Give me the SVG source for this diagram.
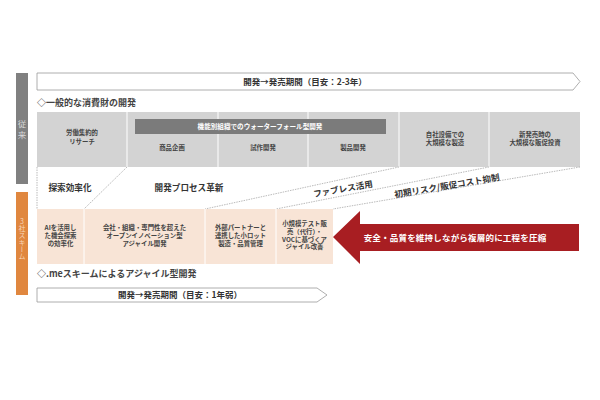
<svg xmlns="http://www.w3.org/2000/svg" width="600" height="400" viewBox="0 0 600 400">
<style>
text{font-family:"Noto Sans CJK JP","Noto Sans",sans-serif;}
.banner{fill:#fff;stroke:#9a9a9a;stroke-width:0.8;}
.bt{font-size:8.5px;font-weight:bold;fill:#333;text-anchor:middle;}
.h{font-size:9px;font-weight:bold;fill:#444;}
.cell{font-size:6.4px;font-weight:bold;fill:#444;text-anchor:middle;}
.mid{font-size:8.6px;font-weight:bold;fill:#333;text-anchor:middle;}
.sep{stroke:#fff;stroke-width:1;}
.dash{stroke:#a8a8a8;stroke-width:0.8;stroke-dasharray:1.5 1;fill:none;}
</style>
<rect width="600" height="400" fill="#fff"/>
<g id="side-conventional">
<rect x="16" y="73" width="12" height="111" fill="#808080"/>
<text x="22" y="127" font-size="8.5" fill="#d8d8d8" text-anchor="middle">従</text>
<text x="22" y="138" font-size="8.5" fill="#d8d8d8" text-anchor="middle">来</text>
</g>
<g id="side-3sha">
<rect x="16" y="192" width="12" height="103" fill="#e0873f"/>
<text x="22" y="218" font-size="7" fill="#f7d5b8" style="writing-mode:vertical-rl;text-orientation:upright;">3社スキーム</text>
</g>
<g id="banner-top">
<path class="banner" d="M37,73 H573 L580,81.5 L573,90 H37 Z"/>
<text class="bt" x="305" y="84.5">開発→発売期間（目安：2-3年）</text>
</g>
<text class="h" x="37" y="106">◇一般的な消費財の開発</text>
<g id="table-conventional">
<rect x="37" y="112" width="543" height="55" fill="#d3d3d3"/>
<line class="sep" x1="127" y1="112" x2="127" y2="167"/>
<line class="sep" x1="218" y1="112" x2="218" y2="167"/>
<line class="sep" x1="308" y1="112" x2="308" y2="167"/>
<line class="sep" x1="399" y1="112" x2="399" y2="167"/>
<line class="sep" x1="489" y1="112" x2="489" y2="167"/>
<rect x="135" y="119" width="251" height="15" fill="#7b7b7b"/>
<text x="260" y="129" font-size="6.6" font-weight="bold" fill="#fff" text-anchor="middle">機能別組織でのウォーターフォール型開発</text>
<text class="cell" x="82" y="135">労働集約的</text>
<text class="cell" x="82" y="144">リサーチ</text>
<text class="cell" x="172" y="150">商品企画</text>
<text class="cell" x="263" y="150">試作開発</text>
<text class="cell" x="353" y="150">製品開発</text>
<text class="cell" x="445" y="137">自社設備での</text>
<text class="cell" x="445" y="145">大規模な製造</text>
<text class="cell" x="535" y="137">新発売時の</text>
<text class="cell" x="535" y="145">大規模な販促投資</text>
</g>
<g id="connectors">
<line class="dash" x1="37" y1="167" x2="37" y2="209"/>
<line class="dash" x1="127" y1="167" x2="84" y2="209"/>
<line class="dash" x1="399" y1="167" x2="205" y2="209"/>
<line class="dash" x1="489" y1="167" x2="276" y2="209"/>
<line class="dash" x1="580" y1="167" x2="333" y2="209"/>
</g>
<g id="labels-mid">
<text class="mid" x="70" y="191">探索効率化</text>
<text class="mid" x="189" y="191">開発プロセス革新</text>
<text class="mid" x="343" y="192" transform="rotate(-10 343 189)">ファブレス活用</text>
<text class="mid" x="447" y="189" transform="rotate(-9.5 447 186)">初期リスク/販促コスト抑制</text>
</g>
<g id="table-3sha">
<rect x="37" y="209" width="296" height="55" fill="#f8e4d6"/>
<line class="sep" x1="84" y1="209" x2="84" y2="264"/>
<line class="sep" x1="205" y1="209" x2="205" y2="264"/>
<line class="sep" x1="276" y1="209" x2="276" y2="264"/>
<text class="cell" x="60.5" y="230">AIを活用し</text>
<text class="cell" x="60.5" y="238">た機会探索</text>
<text class="cell" x="60.5" y="246">の効率化</text>
<text class="cell" x="144.5" y="230">会社・組織・専門性を超えた</text>
<text class="cell" x="144.5" y="238">オープンイノベーション型</text>
<text class="cell" x="144.5" y="246">アジャイル開発</text>
<text class="cell" x="240.5" y="230">外部パートナーと</text>
<text class="cell" x="240.5" y="238">連携した小ロット</text>
<text class="cell" x="240.5" y="246">製造・品質管理</text>
<text class="cell" x="304.5" y="226">小規模テスト販</text>
<text class="cell" x="304.5" y="234">売（代行）・</text>
<text class="cell" x="304.5" y="241.5">VOCに基づくア</text>
<text class="cell" x="304.5" y="249">ジャイル改善</text>
</g>
<g id="arrow-compress">
<polygon points="333,237 360,211 360,224 579,224 579,251 360,251 360,264" fill="#a81e22"/>
<text x="455" y="241" font-size="8.5" font-weight="bold" fill="#fff" text-anchor="middle" letter-spacing="0.2">安全・品質を維持しながら複層的に工程を圧縮</text>
</g>
<text class="h" x="37" y="276.5">◇.meスキームによるアジャイル型開発</text>
<g id="banner-bottom">
<path class="banner" d="M37,288 H317 L327,295 L317,302 H37 Z"/>
<text class="bt" x="180" y="298">開発→発売期間（目安：1年弱）</text>
</g>
</svg>
